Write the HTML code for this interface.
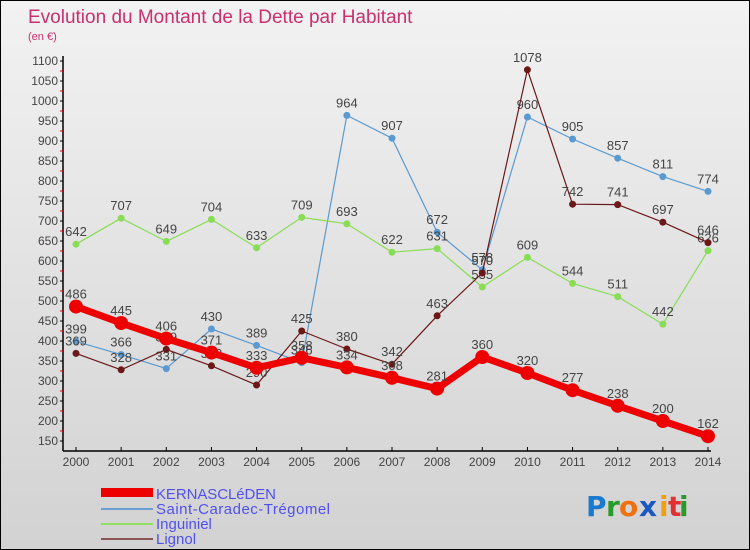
<!DOCTYPE html>
<html><head><meta charset="utf-8"><style>
body{margin:0}
#c{width:750px;height:550px;position:relative;box-sizing:border-box;border:1px solid #000;background:linear-gradient(#f2f2f2,#d2d2d2);font-family:"Liberation Sans",sans-serif;overflow:hidden}
</style></head><body>
<div id="c">
<svg id="s" width="750" height="550" style="position:absolute;left:0;top:0">
<text x="27" y="22" font-size="19" fill="#c8306e">Evolution du Montant de la Dette par Habitant</text>
<text x="27" y="39" font-size="11" fill="#c8306e">(en €)</text>
<g id="axes"></g><g id="series"></g>
<g font-size="15" fill="#5050f0">
<rect x="100" y="487" width="52" height="9" fill="#e00"/>
<text x="155" y="498" textLength="120">KERNASCLéDEN</text>
<rect x="100" y="507" width="52" height="2" fill="#6aa0d0"/>
<text x="155" y="513" textLength="174">Saint-Caradec-Trégomel</text>
<rect x="100" y="522" width="52" height="2" fill="#90dd60"/>
<text x="155" y="528">Inguiniel</text>
<rect x="100" y="537" width="52" height="2" fill="#8a5555"/>
<text x="155" y="543">Lignol</text>
</g>
<g font-size="28" font-weight="bold" font-family="'DejaVu Sans',sans-serif">
<text x="585" y="515" fill="#1a7ad0">P</text><text x="605" y="515" fill="#2a9a2a">r</text><text x="618" y="515" fill="#f07010">o</text><text x="638" y="515" fill="#1a5ac0">x</text><text x="658" y="515" fill="#f0a010">i</text><text x="667" y="515" fill="#e03030">t</text><text x="678" y="515" fill="#2a9a2a">i</text>
</g>
</svg>
</div>
<script>
const years=[2000,2001,2002,2003,2004,2005,2006,2007,2008,2009,2010,2011,2012,2013,2014];
const kern=[486,445,406,371,333,358,334,308,281,360,320,277,238,200,162];
const stc=[399,366,331,430,389,346,964,907,672,578,960,905,857,811,774];
const ingu=[642,707,649,704,633,709,693,622,631,535,609,544,511,442,626];
const lign=[369,328,379,338,290,425,380,342,463,570,1078,742,741,697,646];
const yTicks=[150,200,250,300,350,400,450,500,550,600,650,700,750,800,850,900,950,1000,1050,1100];
const NS="http://www.w3.org/2000/svg";
const X=i=>75+i*(707-75)/(years.length-1);
const Y=v=>60+(1100-v)*0.4;
function mk(t,a,p){const e=document.createElementNS(NS,t);for(const k in a)e.setAttribute(k,a[k]);p.appendChild(e);return e;}
const ax=document.getElementById('axes');
mk('line',{x1:62,y1:55,x2:62,y2:450,stroke:'#000','stroke-width':1.5},ax);
mk('line',{x1:62,y1:450,x2:710,y2:450,stroke:'#000','stroke-width':1.5},ax);
yTicks.forEach(v=>{
 const y=Y(v);
 mk('line',{x1:59,y1:y,x2:62,y2:y,stroke:'#000'},ax);
 const t=mk('text',{x:57,y:y+4,'text-anchor':'end','font-size':12,fill:'#444'},ax);
 t.textContent=v;
 
 
 if(v<1100)mk('line',{x1:59,y1:Y(v+25),x2:62,y2:Y(v+25),stroke:'#e00'},ax);
});
years.forEach((yr,i)=>{
 mk('line',{x1:X(i),y1:446,x2:X(i),y2:450,stroke:'#000'},ax);
 const t=mk('text',{x:X(i),y:465,'text-anchor':'middle','font-size':12,fill:'#444'},ax);
 t.textContent=yr;
 
 
});
const sg=document.getElementById('series');
function draw(vals,color,w,r,name){
 const g=mk('g',{},sg);
 
 
 mk('polyline',{points:vals.map((v,i)=>X(i)+','+Y(v)).join(' '),fill:'none',stroke:color,'stroke-width':w,'stroke-linejoin':'round'},g);
 vals.forEach((v,i)=>{
  const c=mk('circle',{cx:X(i),cy:Y(v),r:r,fill:color},g);
  
  
  const t=mk('text',{x:X(i),y:Y(v)-8,'text-anchor':'middle','font-size':13,fill:'#444'},g);
  t.textContent=v;
  
  
 });
}
draw(stc,'#5a9ad0',1.2,3.5,'saint-caradec-line');
draw(ingu,'#88dd55',1.2,3.5,'inguiniel-line');
draw(lign,'#6a1818',1.2,3.5,'lignol-line');
draw(kern,'#ee0000',7,7,'kernascleden-line');
</script>
</body></html>
